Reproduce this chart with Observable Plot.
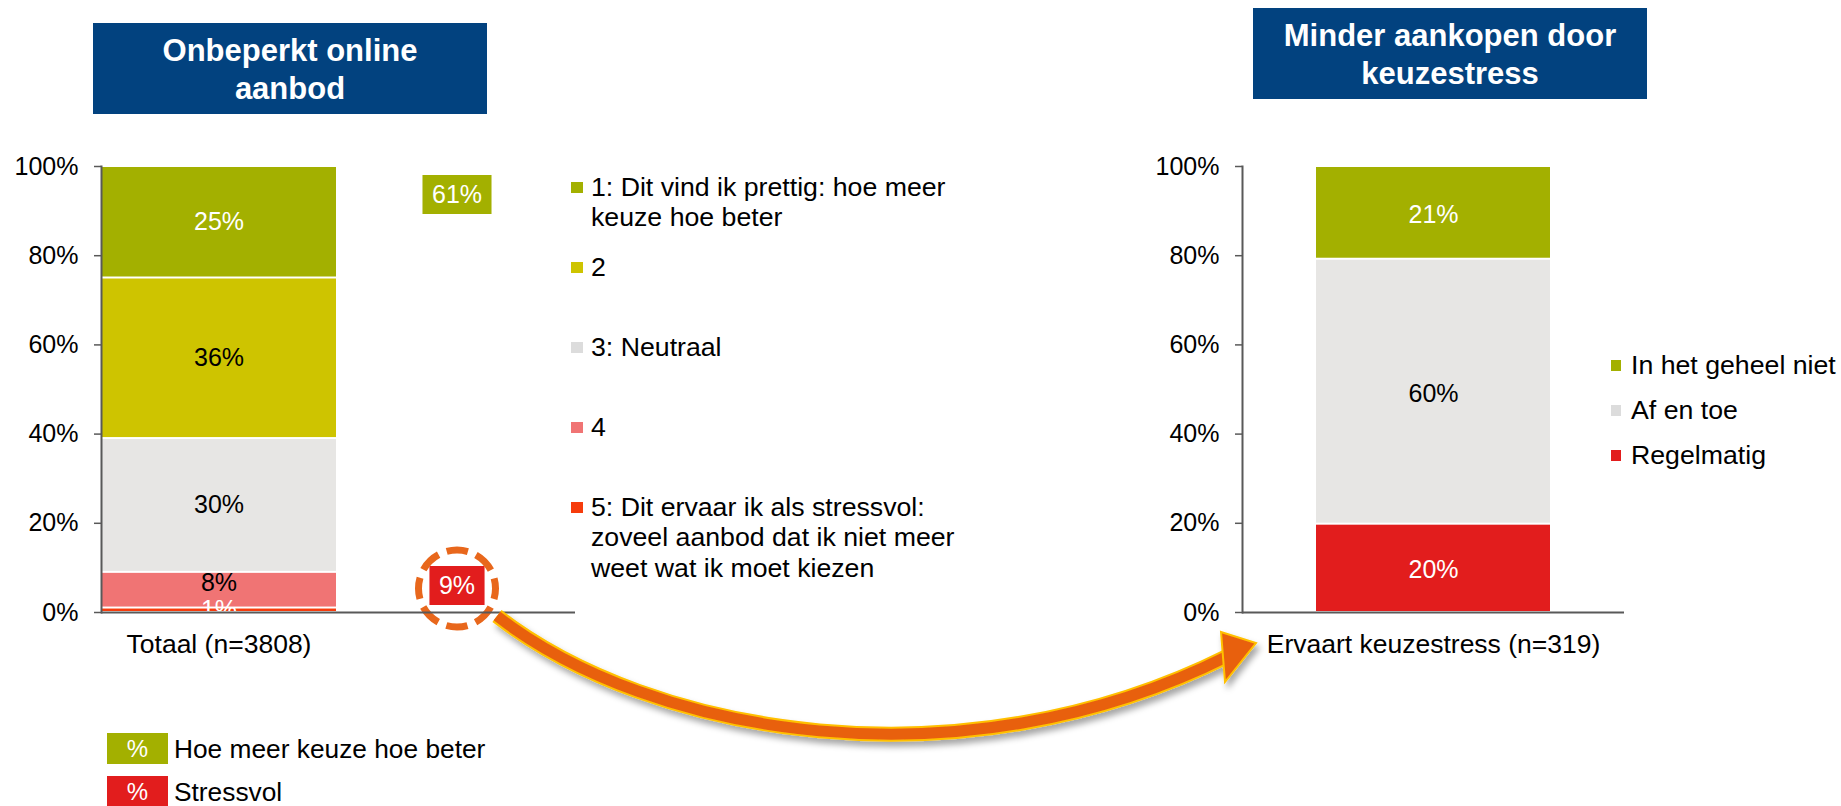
<!DOCTYPE html>
<html>
<head>
<meta charset="utf-8">
<script src="https://cdn.jsdelivr.net/npm/d3@7"></script>
<script src="https://cdn.jsdelivr.net/npm/@observablehq/plot@0.6"></script>
<style>
  body { margin: 0; background: #fff; font-family: "Liberation Sans", Arial, sans-serif; }
  #root { position: relative; width: 1841px; height: 806px; overflow: hidden; background: #fff; }
  .title { position: absolute; width: 394px; height: 91px; box-sizing: border-box; padding-top: 2px;
           background: #02427F; color: #fff; font-weight: bold; font-size: 31px; line-height: 37.6px;
           display: flex; flex-direction: column; align-items: center; justify-content: center; text-align: center; }
  .leg { position: absolute; font-size: 26.7px; line-height: 30.5px; color: #000; white-space: nowrap; }
  .sw { position: absolute; }
  .pbox { position: absolute; color: #fff; font-size: 24px; text-align: center; }
</style>
</head>
<body>
<div id="root"></div>
<script>
// ---------------- data ----------------
const leftCategory = "Totaal (n=3808)";
const summaryCategory = "Samenvatting";
const leftLevels = ["5", "4", "3", "2", "1"];           // bottom to top
const leftValues = [1, 8, 30, 36, 25];
const leftLegendLines = {
  "1": ["1: Dit vind ik prettig: hoe meer", "keuze hoe beter"],
  "2": ["2"],
  "3": ["3: Neutraal"],
  "4": ["4"],
  "5": ["5: Dit ervaar ik als stressvol:", "zoveel aanbod dat ik niet meer", "weet wat ik moet kiezen"]
};
const summaryLabels = ["Hoe meer keuze hoe beter", "Stressvol"];
const summaryValues = [61, 9];
const rightCategory = "Ervaart keuzestress (n=319)";
const rightLevels = ["Regelmatig", "Af en toe", "In het geheel niet"];   // bottom to top
const rightValues = [20, 60, 21];
const yTicks = [0, 20, 40, 60, 80, 100];
const titleLeft = ["Onbeperkt online", "aanbod"];
const titleRight = ["Minder aankopen door", "keuzestress"];

// ---------------- styles ----------------
const leftColors = ["#F63C0C", "#F07474", "#E7E6E4", "#CEC400", "#A3B000"];
const leftLegendColors = {"1": "#A3B000", "2": "#CEC400", "3": "#DCDCDC", "4": "#F07474", "5": "#F63C0C"};
const leftLabelColors = ["#ffffff", "#000000", "#000000", "#000000", "#ffffff"];
const rightColors = ["#E21D1D", "#E7E6E4", "#A3B000"];
const rightLabelColors = ["#ffffff", "#000000", "#ffffff"];
const summaryColors = ["#A3B000", "#E21D1D"];
const axisColor = "#595959";
const fontFamily = '"Liberation Sans", Arial, sans-serif';
const W = 1841, H = 806;
const y0px = 612, y100px = 166;

function stackRows(cat, levels, values, colors, labelColors) {
  const total = d3.sum(values);
  let acc = 0;
  return levels.map((level, i) => {
    const y1 = acc / total; acc += values[i]; const y2 = acc / total;
    return {cat, level, value: values[i], y1, y2, ym: (y1 + y2) / 2, color: colors[i], labelColor: labelColors[i]};
  });
}
const leftRows = stackRows(leftCategory, leftLevels, leftValues, leftColors, leftLabelColors);
const rightRows = stackRows(rightCategory, rightLevels, rightValues, rightColors, rightLabelColors);
const summaryRows = summaryValues.map((v, i) => ({value: v, text: v + "%", color: summaryColors[i], label: summaryLabels[i]}));

// box symbol sized from the label's measured text width
const measureCtx = document.createElement("canvas").getContext("2d");
measureCtx.font = `25px ${fontFamily}`;
function boxSymbol(text) {
  const w = measureCtx.measureText(text).width + 19, h = 39;
  return {draw(ctx) { ctx.rect(-w / 2, -h / 2, w, h); }};
}

const root = document.getElementById("root");

function yAxisMarks() {
  return [
    Plot.axisY({ticks: yTicks.map(v => v / 100), tickFormat: v => Math.round(v * 100) + "%",
      tickSize: 7, tickPadding: 16, stroke: axisColor, strokeWidth: 1.5, label: null, fill: "#000", fontSize: 25}),
    Plot.frame({anchor: "left", stroke: axisColor, strokeWidth: 2}),
    Plot.ruleY([0], {stroke: axisColor, strokeWidth: 2})
  ];
}

// ---------------- left chart ----------------
const leftPlot = Plot.plot({
  width: W, height: H,
  marginLeft: 101, marginRight: W - 575, marginTop: y100px, marginBottom: H - y0px,
  style: {fontFamily, fontSize: "25px", color: "#000", background: "transparent", overflow: "visible"},
  x: {type: "band", domain: [leftCategory, summaryCategory], paddingInner: 0.014, paddingOuter: 0, align: 0},
  y: {domain: [0, 1]},
  color: {type: "identity"},
  marks: [
    Plot.barY(leftRows, {x: "cat", y1: "y1", y2: "y2", fill: "color", insetTop: 1, insetBottom: 1}),
    Plot.text(leftRows.filter(d => d.level !== "4"), {x: "cat", y: "ym", text: d => d.value + "%", fill: "labelColor", fontSize: 25}),
    Plot.text(leftRows.filter(d => d.level === "4"), {x: "cat", y: "ym", text: d => d.value + "%", fill: "labelColor", fontSize: 25, dy: -7}),
    // summary boxes
    Plot.dot(summaryRows.slice(0, 1), {x: () => summaryCategory, frameAnchor: "top", dy: 28, r: 10,
      symbol: boxSymbol(summaryRows[0].text), fill: "color", stroke: "none"}),
    Plot.dot(summaryRows.slice(1, 2), {x: () => summaryCategory, frameAnchor: "bottom", dy: -27, r: 10,
      symbol: boxSymbol(summaryRows[1].text), fill: "color", stroke: "none"}),
    Plot.text(summaryRows.slice(0, 1), {x: () => summaryCategory, frameAnchor: "top", lineAnchor: "middle", dy: 28,
      text: "text", fill: "#ffffff", fontSize: 25}),
    Plot.text(summaryRows.slice(1, 2), {x: () => summaryCategory, frameAnchor: "bottom", lineAnchor: "middle", dy: -27,
      text: "text", fill: "#ffffff", fontSize: 25}),
    Plot.dot(summaryRows.slice(1, 2), {x: () => summaryCategory, frameAnchor: "bottom", dy: -24, r: 38.5,
      stroke: "#E8671C", strokeWidth: 7, strokeDasharray: "21.5 8.74", strokeDashoffset: 10.75, fill: "none"}),
    Plot.axisX({tickSize: 0, tickPadding: 22, tickFormat: d => d === summaryCategory ? "" : d, label: null, fill: "#000", fontSize: 26.5}),
    ...yAxisMarks()
  ]
});
leftPlot.style.position = "absolute";
leftPlot.style.left = "0px";
leftPlot.style.top = "0px";
root.appendChild(leftPlot);

// ---------------- right chart ----------------
const rightPlot = Plot.plot({
  width: W, height: H,
  marginLeft: 1242, marginRight: W - 1624, marginTop: y100px, marginBottom: H - y0px,
  style: {fontFamily, fontSize: "25px", color: "#000", background: "transparent", overflow: "visible"},
  x: {type: "band", domain: [rightCategory], padding: 0.24},
  y: {domain: [0, 1]},
  color: {type: "identity"},
  marks: [
    Plot.barY(rightRows, {x: "cat", y1: "y1", y2: "y2", fill: "color", insetTop: 1, insetBottom: 1}),
    Plot.text(rightRows, {x: "cat", y: "ym", text: d => d.value + "%", fill: "labelColor", fontSize: 25, dy: 2}),
    Plot.axisX({tickSize: 0, tickPadding: 22, label: null, fill: "#000", fontSize: 26.5}),
    ...yAxisMarks()
  ]
});
rightPlot.style.position = "absolute";
rightPlot.style.left = "0px";
rightPlot.style.top = "0px";
root.appendChild(rightPlot);

// ---------------- html annotations ----------------
function div(cls, css, html) {
  const d = document.createElement("div");
  if (cls) d.className = cls;
  Object.assign(d.style, css);
  if (html != null) d.innerHTML = html;
  root.appendChild(d);
  return d;
}
function title(lines, left, top) {
  const d = div("title", {left: left + "px", top: top + "px"});
  lines.forEach(l => { const s = document.createElement("div"); s.textContent = l; d.appendChild(s); });
}
title(titleLeft, 93, 23);
title(titleRight, 1253, 8);

// left legend (top to bottom: 1..5)
["1", "2", "3", "4", "5"].forEach((lvl, i) => {
  const cy = 187 + i * 80;
  div("sw", {left: "571px", top: (cy - 5.5) + "px", width: "12px", height: "11px", background: leftLegendColors[lvl]});
  const t = div("leg", {left: "591px", top: (cy - 15.25) + "px"});
  leftLegendLines[lvl].forEach(l => { const s = document.createElement("div"); s.textContent = l; t.appendChild(s); });
});

// right legend (top to bottom)
rightRows.slice().reverse().forEach((d, i) => {
  const cy = 365 + i * 45;
  div("sw", {left: "1611px", top: (cy - 5.5) + "px", width: "10px", height: "11px", background: d.color === "#E7E6E4" ? "#DCDCDC" : d.color});
  div("leg", {left: "1631px", top: (cy - 15.25) + "px"}, d.level);
});

// bottom legend
summaryRows.forEach((d, i) => {
  const top = 733 + i * 43;
  div("pbox", {left: "107px", top: top + "px", width: "61px", height: "31px", lineHeight: "31px", background: d.color}, "%");
  div("leg", {left: "174px", top: (top + 15.5 - 13) + "px", lineHeight: "26px", fontSize: "26.3px"}, d.label);
});

// ---------------- arrow overlay ----------------
const ov = d3.select(root).append("svg")
  .attr("width", W).attr("height", H)
  .style("position", "absolute").style("left", 0).style("top", 0).style("pointer-events", "none");
const defs = ov.append("defs");
defs.append("filter").attr("id", "shadow").attr("x", "-20%").attr("y", "-20%").attr("width", "140%").attr("height", "140%")
  .append("feDropShadow").attr("dx", 3).attr("dy", 5).attr("stdDeviation", 3)
  .attr("flood-color", "#000").attr("flood-opacity", 0.35);
const ag = ov.append("g").attr("filter", "url(#shadow)");
const bodyPath = "M497,616 C650,735 960,790 1228,656";
ag.append("path").attr("d", bodyPath).attr("fill", "none").attr("stroke", "#FFC000").attr("stroke-width", 15);
ag.append("path").attr("d", bodyPath).attr("fill", "none").attr("stroke", "#E8600F").attr("stroke-width", 11);
ag.append("path").attr("d", "M1221,632 L1256,643 L1225,682 Z")
  .attr("fill", "#E8600F").attr("stroke", "#FFC000").attr("stroke-width", 2).attr("stroke-linejoin", "miter");
</script>
</body>
</html>
